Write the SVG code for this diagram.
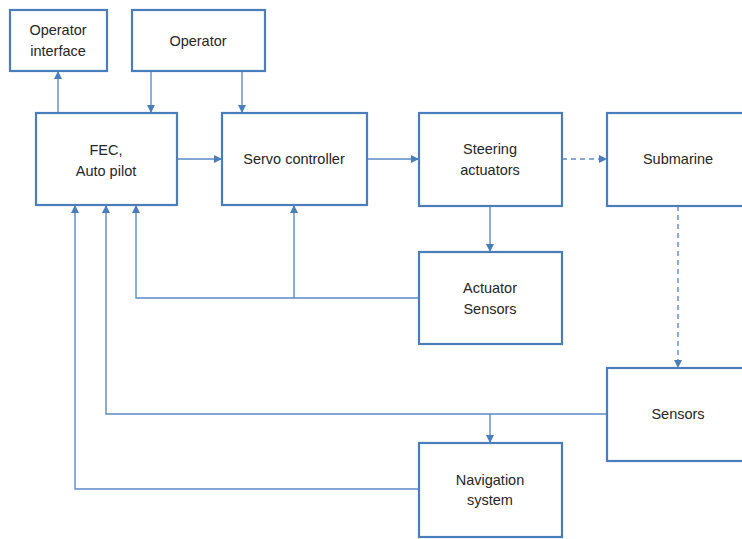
<svg xmlns="http://www.w3.org/2000/svg" width="742" height="539" viewBox="0 0 742 539">
<defs>
<style>
.box{fill:#fff;stroke:#4a7ebb;stroke-width:2.2}
.t{font-family:"Liberation Sans",Arial,sans-serif;font-size:14.5px;fill:#262626;text-anchor:middle}
.c{fill:none;stroke:#5b8bc9;stroke-width:1.4}
.d{stroke-dasharray:5,4}
</style>
<marker id="ah" viewBox="0 0 10 10" refX="10" refY="5" markerWidth="8" markerHeight="8" markerUnits="userSpaceOnUse" orient="auto">
<path d="M0,0 L10,5 L0,10 z" fill="#4a7ebb"/>
</marker>
</defs>
<rect width="742" height="539" fill="#fff"/>
<g id="connectors">
<path class="c" d="M58,113 V71" marker-end="url(#ah)"/>
<path class="c" d="M151,71 V113" marker-end="url(#ah)"/>
<path class="c" d="M242,71 V113" marker-end="url(#ah)"/>
<path class="c" d="M177,159 H222" marker-end="url(#ah)"/>
<path class="c" d="M367,159 H419" marker-end="url(#ah)"/>
<path class="c d" d="M562,159 H607" marker-end="url(#ah)"/>
<path class="c" d="M490,206 V252" marker-end="url(#ah)"/>
<path class="c" d="M419,298 H136 V205" marker-end="url(#ah)"/>
<path class="c" d="M294,298 V205" marker-end="url(#ah)"/>
<path class="c d" d="M678,206 V368" marker-end="url(#ah)"/>
<path class="c" d="M607,414 H106 V205" marker-end="url(#ah)"/>
<path class="c" d="M490,414 V443" marker-end="url(#ah)"/>
<path class="c" d="M419,489 H75 V205" marker-end="url(#ah)"/>
</g>
<g id="operator-interface">
<rect class="box" x="10" y="10" width="97" height="61"/>
<text class="t" x="58" y="35">Operator</text>
<text class="t" x="58" y="56">interface</text>
</g>
<g id="operator">
<rect class="box" x="132" y="10" width="133" height="61"/>
<text class="t" x="198" y="46">Operator</text>
</g>
<g id="fec">
<rect class="box" x="36" y="113" width="141" height="92"/>
<text class="t" x="106" y="155">FEC,</text>
<text class="t" x="106" y="176">Auto pilot</text>
</g>
<g id="servo">
<rect class="box" x="222" y="113" width="145" height="92"/>
<text class="t" x="294" y="164">Servo controller</text>
</g>
<g id="steering">
<rect class="box" x="419" y="113" width="143" height="93"/>
<text class="t" x="490" y="154">Steering</text>
<text class="t" x="490" y="175">actuators</text>
</g>
<g id="submarine">
<rect class="box" x="607" y="113" width="140" height="93"/>
<text class="t" x="678" y="164">Submarine</text>
</g>
<g id="actuator-sensors">
<rect class="box" x="419" y="252" width="143" height="92"/>
<text class="t" x="490" y="293">Actuator</text>
<text class="t" x="490" y="314">Sensors</text>
</g>
<g id="sensors">
<rect class="box" x="607" y="368" width="140" height="93"/>
<text class="t" x="678" y="419">Sensors</text>
</g>
<g id="navigation">
<rect class="box" x="419" y="443" width="143" height="94"/>
<text class="t" x="490" y="485">Navigation</text>
<text class="t" x="490" y="505">system</text>
</g>
</svg>
